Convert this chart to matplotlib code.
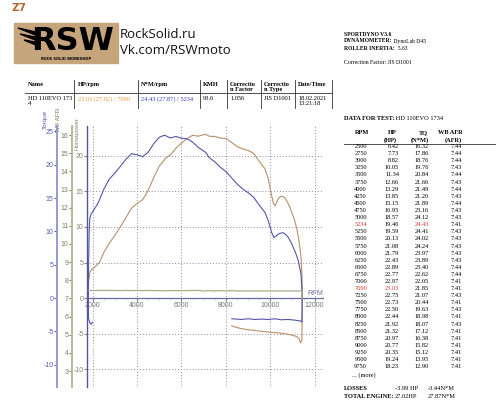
import matplotlib
matplotlib.use('Agg')
import matplotlib.pyplot as plt
from matplotlib.patches import Rectangle, Polygon

plt.rcParams['axes.unicode_minus'] = False

# dyno table (DATA FOR TEST)
rpm_tbl = [2500, 2750, 3000, 3250, 3500, 3750, 4000, 4250, 4500, 4750, 5000, 5234,
           5250, 5500, 5750, 6000, 6250, 6500, 6750, 7000, 7090, 7250, 7500, 7750,
           8000, 8250, 8500, 8750, 9000, 9250, 9500, 9750]
hp_tbl = [6.42, 7.73, 8.82, 10.05, 11.34, 12.66, 13.29, 13.85, 15.15, 16.95, 18.57, 19.46,
          19.59, 20.13, 21.08, 21.79, 22.43, 22.89, 22.77, 22.97, 23.03, 22.75, 22.73, 22.50,
          22.44, 21.92, 21.32, 20.97, 20.77, 20.35, 19.24, 18.23]
tq_tbl = [16.32, 17.86, 18.76, 19.76, 20.84, 21.66, 21.49, 21.20, 21.89, 23.16, 24.12, 24.43,
          24.41, 24.02, 24.24, 23.97, 23.89, 23.40, 22.62, 22.05, 21.85, 21.07, 20.44, 19.63,
          18.98, 18.07, 17.12, 16.38, 15.82, 15.12, 13.95, 12.90]
afr_tbl = [7.44, 7.44, 7.44, 7.43, 7.44, 7.43, 7.44, 7.43, 7.44, 7.43, 7.43, 7.41,
           7.43, 7.43, 7.43, 7.43, 7.43, 7.44, 7.44, 7.41, 7.41, 7.43, 7.41, 7.43,
           7.41, 7.43, 7.41, 7.41, 7.41, 7.41, 7.41, 7.41]
red_rows = [5234, 7090]

# parts of the curves outside the table
hp_start_rpm = [1800, 1840, 1880, 1950, 2100, 2300]
hp_start = [2.2, 3.0, 3.7, 4.0, 4.4, 5.0]
hp_tail_rpm = [9900, 10020, 10140, 10210, 10290, 10360, 10460, 10560, 10650, 10740,
               10850, 10960, 11080, 11190, 11270, 11340, 11385, 11415, 11445]
hp_tail = [16.9, 15.0, 13.3, 13.0, 13.5, 14.0, 14.3, 14.3, 14.1, 13.7,
           13.0, 12.1, 11.1, 9.8, 8.5, 7.0, 5.6, 4.2, 0.9]
hp_coast_rpm = [11440, 11420, 11360, 11300, 11190, 10900, 10740, 10400, 10000, 9686,
                9300, 8900, 8636, 8400, 8262]
hp_coast = [-3.0, -6.0, -6.3, -5.7, -5.4, -5.15, -5.05, -4.9, -4.8, -4.7,
            -4.55, -4.4, -4.25, -4.05, -3.9]

tq_start_rpm = [1985, 1940, 1880, 1810, 1805, 1815, 1840, 1870, 1930, 2030, 2250]
tq_start = [-3.6, -3.9, -3.8, -3.0, 0.0, 5.0, 10.0, 12.0, 12.6, 13.1, 14.3]
tq_tail_rpm = [9911, 10064, 10168, 10260, 10361, 10470, 10586, 10700, 10812, 10930,
               11037, 11150, 11262, 11384, 11430, 11432]
tq_tail = [11.6, 9.8, 9.1, 9.3, 9.6, 9.75, 9.8, 9.5, 9.1, 8.4,
           7.6, 6.7, 5.6, 3.6, 1.1, -2.0]
tq_coast_rpm = [11420, 11380, 11300, 11100, 10800, 10500, 10200, 9900, 9600, 9300,
                9000, 8700, 8500, 8262]
tq_coast = [-3.6, -3.45, -3.4, -3.3, -3.2, -3.25, -3.1, -3.2, -3.15, -3.2,
            -3.1, -3.2, -3.15, -3.1]

afr_start_rpm = [1800, 2250]
afr_start = [7.44, 7.44]
afr_tail_rpm = [10000, 10500, 11000, 11430, 11432]
afr_tail = [7.41, 7.41, 7.41, 7.41, 7.0]

rpm_ticks = [2000, 4000, 6000, 8000, 10000, 12000]
hp_ticks = [-10, -5, 0, 5, 10, 15, 20]
tq_ticks = [-10, -5, 0, 5, 10, 15, 20, 25]
afr_ticks = list(range(3, 17))

C_HP = '#b8906a'
C_TQ = '#5555a8'
C_AFR = '#a5b08a'

W, H = 500, 400
fig = plt.figure(figsize=(5, 4), dpi=100)
bg = fig.add_axes([0, 0, 1, 1])
bg.set_xlim(0, W)
bg.set_ylim(H, 0)
bg.axis('off')

SERIF = 'Liberation Serif'


def t(x, y, s, size=4.6, **kw):
    kw.setdefault('va', 'center')
    kw.setdefault('family', SERIF)
    return bg.text(x, y, s, fontsize=size, **kw)


def after(txt, s, size=4.6, gap=' ', **kw):
    # regular text written right after a bold label
    return bg.annotate(gap + s, xy=(1, 0.5), xycoords=txt, va='center', ha='left',
                       fontsize=size, family=SERIF, **kw)


# header / logo
t(19, 8, 'Z7', size=7.5, color='#b8652f', weight='bold', ha='center', family='DejaVu Sans')
bg.add_patch(Rectangle((14, 23), 104, 40, color='#c6a47c'))
for pts in ([(18, 28), (40, 33), (38, 36)], [(20, 34), (40, 38), (38, 41)],
            [(24, 40), (40, 43), (38, 46)]):
    bg.add_patch(Polygon(pts, color='black'))
t(73, 41, 'RSW', size=23, weight='bold', ha='center', family='DejaVu Sans', color='black')
t(66, 59, 'ROCK SOLID WORKSHOP', size=2.6, weight='bold', ha='center',
  family='DejaVu Sans', color='black')
t(120, 34, 'RockSolid.ru', size=9.5, family='Open Sans', color='#111111')
t(120, 51, 'Vk.com/RSWmoto', size=9.5, family='Open Sans', color='#111111')

hs = 4.1
t(344, 34, 'SPORTDYNO V3.6', size=hs, weight='bold')
after(t(344, 41, 'DYNAMOMETER:', size=hs, weight='bold'), 'DynoLab D45', size=hs)
after(t(344, 48, 'ROLLER INERTIA:', size=hs, weight='bold'), '5,63', size=hs, gap='  ')
t(344, 62, 'Correction Factor: JIS D1001', size=hs)

# summary table
for x in [74, 138, 200, 227, 261, 295, 332]:
    bg.plot([x, x], [80, 108], color='#333333', lw=0.6)
bg.plot([25, 332], [93, 93], color='#333333', lw=0.6)
heads = [(28, 'Name'), (78, 'HP/rpm'), (141, 'N*M/rpm'), (203, 'KMH'),
         (230, 'Correctio\nn Factor'), (264, 'Correctio\nn Type'), (298, 'Date/Time')]
for x, s in heads:
    t(x, 82, s, weight='bold', va='top', linespacing=1.1)
t(28, 96, 'HD 110EVO 173\n4', va='top', linespacing=1.1)
t(78, 96, '23.03 (27.02) / 7090', va='top', color='#e89a40')
t(141, 96, '24.43 (27.87) / 5234', va='top', color='#3a3ad0')
t(203, 96, '93.6', va='top')
t(230, 96, '1.056', va='top')
t(264, 96, 'JIS D1001', va='top')
t(298, 96, '18.02.2021\n13:21:18', va='top', linespacing=1.1)

# data table on the right
after(t(344, 118, 'DATA FOR TEST:', weight='bold'), 'HD 110EVO 1734')
t(362, 133, 'RPM', weight='bold', ha='center')
t(397, 133, 'HP', weight='bold', ha='right')
t(397, 140, '(HP)', weight='bold', ha='right')
t(428, 133, 'TQ', weight='bold', ha='right')
t(429, 140, '(N*M)', weight='bold', ha='right')
t(463, 133, 'WB AFR', weight='bold', ha='right')
t(462, 140, '(AFR)', weight='bold', ha='right')
bg.plot([344, 495], [143.5, 143.5], color='#333333', lw=0.6)
for i, r in enumerate(rpm_tbl):
    y = 146.6 + i * 7.1
    red = r in red_rows
    t(367, y, str(r), ha='right', color='#e03030' if red else 'black')
    t(399, y, '%.2f' % hp_tbl[i], ha='right', color='#e03030' if r == 7090 else 'black')
    t(429, y, '%.2f' % tq_tbl[i], ha='right', color='#e03030' if r == 5234 else 'black')
    t(462, y, '%.2f' % afr_tbl[i], ha='right')
t(352, 375, '... (more)')
t(344, 388, 'LOSSES', weight='bold')
t(395, 388, '-3.99 HP')
t(428, 388, '-3.44N*M')
t(344, 396, 'TOTAL ENGINE:', weight='bold')
t(395, 396, '27.02HP')
t(428, 396, '27.87N*M')

# dyno chart
ax = fig.add_axes([87 / W, 1 - 387 / H, 236 / W, 261 / H])
ax.patch.set_alpha(0)
ax.set_xlim(1743, 12375)
ax.set_ylim(-12.5, 24.2)
for s in ['top', 'right']:
    ax.spines[s].set_visible(False)
ax.spines['bottom'].set_position(('data', 0))
ax.spines['bottom'].set_color('#6a6aa0')
ax.spines['bottom'].set_linewidth(0.9)
ax.spines['left'].set_color('#55559a')
ax.spines['left'].set_linewidth(1.0)
ax.set_xticks(rpm_ticks)
ax.set_xticks(range(2000, 12001, 500), minor=True)
ax.set_yticks(hp_ticks)
ax.tick_params(axis='x', labelsize=5, colors='#777777', length=2, pad=1)
ax.tick_params(axis='x', which='minor', length=1, colors='#8888aa')
ax.tick_params(axis='y', labelsize=5, colors='#8c8070', length=2, pad=0.5)
ax.grid(True, which='major', linestyle=(0, (1, 2)), color='#8a8ab0', linewidth=0.7)
for lab in ax.get_xticklabels():
    lab.set_family('Liberation Sans')
for lab in ax.get_yticklabels():
    lab.set_family('Liberation Sans')
ax.text(11650, 0.4, 'RPM', fontsize=5, color='#7070a0', family='Liberation Sans')

hp_x = hp_start_rpm + rpm_tbl + hp_tail_rpm + hp_coast_rpm
hp_y = hp_start + hp_tbl + hp_tail + hp_coast
ax.plot(hp_x, hp_y, color=C_HP, lw=0.8)

# torque axis
ax_tq = ax.twinx()
ax_tq.set_ylim(-13.33, 25.81)
for s in ['top', 'right', 'bottom']:
    ax_tq.spines[s].set_visible(False)
ax_tq.spines['left'].set_visible(True)
ax_tq.spines['left'].set_position(('axes', -30 / 236))
ax_tq.spines['left'].set_color('#9a9ad4')
ax_tq.spines['left'].set_linewidth(1.4)
ax_tq.yaxis.set_ticks_position('left')
ax_tq.set_yticks(tq_ticks)
ax_tq.tick_params(axis='y', labelsize=5, colors='#5a5ab0', length=2, pad=0.5)
for lab in ax_tq.get_yticklabels():
    lab.set_family('Liberation Sans')
tq_x = tq_start_rpm + rpm_tbl + tq_tail_rpm + tq_coast_rpm
tq_y = tq_start + tq_tbl + tq_tail + tq_coast
ax_tq.plot(tq_x, tq_y, color=C_TQ, lw=0.8)

# AFR axis
ax_afr = ax.twinx()
ax_afr.set_ylim(2.12, 16.5)
for s in ['top', 'right', 'bottom']:
    ax_afr.spines[s].set_visible(False)
ax_afr.spines['left'].set_visible(True)
ax_afr.spines['left'].set_position(('axes', -15 / 236))
ax_afr.spines['left'].set_color('#b4bc9c')
ax_afr.spines['left'].set_linewidth(1.4)
ax_afr.yaxis.set_ticks_position('left')
ax_afr.set_yticks(afr_ticks)
ax_afr.tick_params(axis='y', labelsize=5, colors='#7a8060', length=2, pad=0.5)
for lab in ax_afr.get_yticklabels():
    lab.set_family('Liberation Sans')
ax_afr.plot(afr_start_rpm + rpm_tbl + afr_tail_rpm, afr_start + afr_tbl + afr_tail,
            color=C_AFR, lw=0.9)

t(45, 119, 'Torque', size=4.6, rotation=90, ha='center', color='#5a5ab0', family='Liberation Sans')
t(59, 120, 'WB AFR', size=4.6, rotation=90, ha='center', color='#7a8060', family='Liberation Sans')
t(77, 134, 'Horsepower', size=4.4, rotation=90, ha='center', color='#8c8070', family='Liberation Sans')

fig.savefig('out.png', dpi=100)
